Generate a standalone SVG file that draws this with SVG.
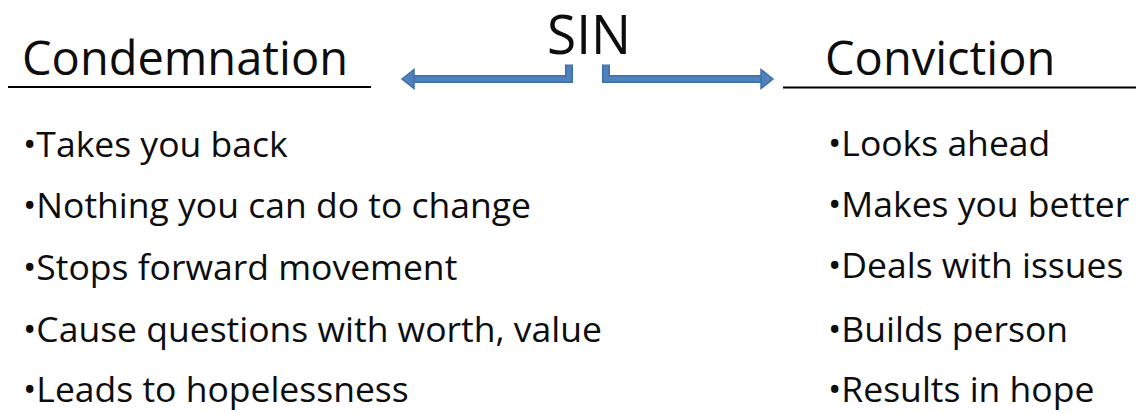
<svg xmlns="http://www.w3.org/2000/svg" width="1136" height="413" viewBox="0 0 1136 413">
  <style>
    text { font-family: "Open Sans", "Noto Sans", "Liberation Sans", sans-serif; fill: #0d0d0d; }
    .head { font-size: 47px; }
    .sin { font-size: 55px; }
    .item { font-size: 35.5px; }
    .rule { stroke: #000; stroke-width: 2.2; }
    .conn { fill: none; stroke: #3e6fa9; stroke-width: 8; stroke-linejoin: miter; }
    .conn-in { fill: none; stroke: #4f81bd; stroke-width: 5; stroke-linejoin: miter; }
    .head-arrow { fill: #4f81bd; stroke: #3e6fa9; stroke-width: 1.5; stroke-linejoin: miter; }
  </style>
  <rect width="1136" height="413" fill="#ffffff"/>

  <g id="sin">
    <text class="sin" x="589" y="54" text-anchor="middle" textLength="84" lengthAdjust="spacingAndGlyphs">SIN</text>
  </g>

  <g id="connectors">
    <path class="conn" d="M569 64.5 V79 H412"/>
    <path class="conn-in" d="M569 65.5 V79 H412"/>
    <polygon class="head-arrow" points="402,79 414,69.5 414,88.5"/>
    <path class="conn" d="M606 64.5 V79 H763"/>
    <path class="conn-in" d="M606 65.5 V79 H763"/>
    <polygon class="head-arrow" points="773,79 761,69.5 761,88.5"/>
  </g>

  <g id="condemnation">
    <text class="head" x="22" y="75">Condemnation</text>
    <line class="rule" x1="8" y1="87" x2="371" y2="87"/>
    <text class="item" x="23" y="157">•Takes you back</text>
    <text class="item" x="23" y="218">•Nothing you can do to change</text>
    <text class="item" x="23" y="280">•Stops forward movement</text>
    <text class="item" x="23" y="342">•Cause questions with worth, value</text>
    <text class="item" x="23" y="402">•Leads to hopelessness</text>
  </g>

  <g id="conviction">
    <text class="head" x="825" y="75">Conviction</text>
    <line class="rule" x1="783" y1="87.5" x2="1136" y2="87.5"/>
    <text class="item" x="828" y="156">•Looks ahead</text>
    <text class="item" x="828" y="217">•Makes you better</text>
    <text class="item" x="828" y="278">•Deals with issues</text>
    <text class="item" x="828" y="342">•Builds person</text>
    <text class="item" x="828" y="402">•Results in hope</text>
  </g>
</svg>
